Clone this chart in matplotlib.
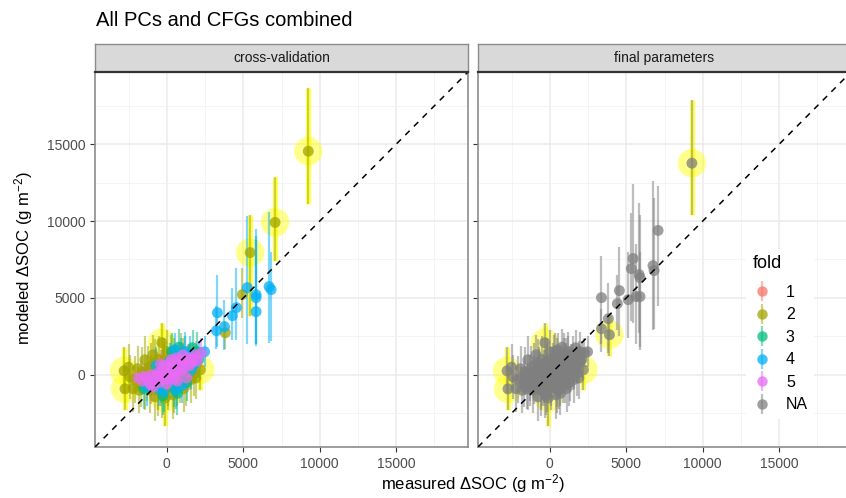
import numpy as np
import matplotlib.pyplot as plt
from matplotlib.lines import Line2D
from matplotlib.legend_handler import HandlerTuple

plt.rcParams['font.family'] = ['Liberation Sans', 'DejaVu Sans']
plt.rcParams['mathtext.default'] = 'regular'

# cluster of sites around the origin (same measured values in both panels)
clu_x = [-2790, -2730, -2400, -2200, -1900, -1700, -1430, -1300, -1100, -1000, -900, -780, -700, -600, -500,
         -325, -300, -200, -100, 0, 100, 200, 400, 500, 700, 900, 1100, 1300, 1600, 2200, 1900,
         200, 800, -300, 1400,
         1690, 325, -260, 800, 1300, -700, 500, 1000,
         2470, 520, 1200, -500, 1000, 1800, -1000, 300, 1500,
         -1880, -1500, -1200, -1000, -800, -600, -500, -300, -200, 0, 100, 200, 300, 400, 500, 600, 700,
         800, 900, 1000, 1100, 1200, 1400, 1500, 1700, 1900, 2000, 2270, -900, 0, 700, 1300, 300, -400,
         -2500, -2100, -1800, -1600, -1400, -1200, -1000, -800, -600, -400, -150, 50, 250, 450, 650, 850,
         1050, 1250, 1500, 1800,
         -1600, -1300, -1100, -700, -400, -100, 150, 350, 550, 750, 950, 1150, 1350, 1600, 1800, -200,
         250, 650, 1050, 450,
         -1300, -200, 600, 1600, 2100, 900, -700, 200,
         -1500, 0, 1200, 2000, -400, 700]
clu_y = [260, -910, -130, -900, 400, -600, 980, -200, -980, 600, 1300, -1430, 200, -700, 1000,
         2090, -1200, 500, -1500, 1500, -800, 300, -1300, 900, -500, 1300, -900, 400, -300, 330, -200,
         200, 500, -100, 700,
         1760, 1500, -1370, 1800, -500, -100, -900, 100,
         1500, 1630, 1500, -900, -700, 700, -300, -400, 1300,
         -200, -100, -400, 0, -300, 100, -500, 300, -200, 100, 500, -100, 300, 700, 0, 400, 800,
         200, 600, 1000, 400, 800, 1100, 600, 1000, 1300, 900, 1430, -800, -600, -400, -200, 1000, 700,
         500, -300, -1000, 200, -700, 400, -300, 800, -1000, -200, 900, -400, 1100, -900, 300, -200,
         900, -500, 500, 100,
         -400, -200, -600, -100, 0, -300, 200, 0, 200, 500, 300, 700, 900, 800, 1100, 600,
         800, 1100, 1300, -300,
         -800, -1100, -1000, 300, 1000, 1200, 600, 900,
         -900, 600, 1200, 1500, -700, -1200]
clu_lo = [-1200, -2300, -1600, -2400, -900, -2100, -500, -1700, -2500, -900, -200, -3000, -1300, -2300, -500,
          700, -2800, -1000, -3300, 200, -2300, -1200, -2900, -600, -2000, -100, -2400, -1000, -1800, -1000, -1600,
          -700, -400, -1000, -200,
          600, 300, -2600, 600, -1700, -1300, -2100, -1100,
          500, 600, 300, -2000, -1800, -500, -1400, -1500, 200,
          -900, -900, -1300, -800, -1200, -700, -1400, -500, -1100, -800, -400, -1000, -600, -200, -900, -500, -100,
          -700, -300, 100, -500, -100, 200, -300, 100, 400, 0, 500, -1700, -1500, -1300, -1100, 100, -200,
          -900, -1800, -2500, -1300, -2300, -1100, -1900, -700, -2700, -1800, -600, -2000, -400, -2500, -1200, -1800,
          -600, -2000, -1000, -1400,
          -1200, -1000, -1400, -900, -800, -1100, -600, -800, -600, -300, -500, -100, 100, 0, 300, -200,
          0, 300, 500, -1100,
          -2000, -2400, -2200, -900, -200, 100, -600, -300,
          -2200, -700, 0, 300, -2000, -2600]
clu_hi = [1800, 500, 1300, 600, 1900, 900, 2500, 1300, 500, 2100, 2600, 100, 1700, 800, 2500,
          3400, 300, 2000, -100, 2900, 700, 1800, 200, 2400, 1000, 2700, 600, 1900, 1200, 1700, 1300,
          1100, 1400, 800, 1600,
          2900, 2700, -100, 3000, 700, 1100, 300, 1300,
          2500, 2700, 2800, 200, 400, 1900, 800, 700, 2500,
          500, 700, 500, 800, 600, 900, 400, 1100, 700, 1000, 1400, 800, 1200, 1600, 900, 1300, 1700,
          1100, 1500, 1900, 1300, 1700, 2000, 1500, 1900, 2200, 1800, 2400, 100, 300, 500, 700, 1900, 1600,
          2000, 1200, 400, 1800, 800, 1900, 1300, 2300, 500, 1300, 2400, 1100, 2600, 600, 1800, 1300,
          2400, 1000, 2000, 1600,
          400, 600, 200, 700, 800, 500, 1000, 800, 1000, 1300, 1100, 1500, 1700, 1600, 1900, 1400,
          1600, 1900, 2100, 500,
          300, 100, 200, 1500, 2200, 2400, 1800, 2100,
          400, 1900, 2500, 2800, 600, 100]
clu_fold = [2] * 31 + [1] * 4 + [3] * 8 + [4] * 9 + [5] * 34 + [2] * 20 + [5] * 20 + [4] * 8 + [3] * 6
clu_hl = [0, 1, 15, 18, 29]

# larger sites, cross-validation panel
cv_x = [9250, 7080, 5450, 5260, 5840, 5840, 6690, 6820, 5840, 3310, 4290, 4550, 3250, 3770, 4940, 3830]
cv_y = [14540, 9910, 7950, 5670, 5210, 5020, 5740, 5540, 4110, 4040, 3850, 4370, 2870, 3130, 5220, 2740]
cv_lo = [11080, 7370, 3800, 2000, 1900, 2000, 2100, 2200, 2000, 1800, 2280, 2280, 1700, 1630, 3700, 1700]
cv_hi = [18640, 12840, 10400, 10300, 9500, 8800, 10600, 8000, 9000, 6500, 5670, 6970, 4500, 4890, 6970, 3500]
cv_fold = [2, 2, 2, 4, 4, 4, 4, 4, 4, 4, 4, 4, 4, 4, 2, 2]
cv_hl = [0, 1, 2]

# larger sites, final parameters panel
fin_x = [9290, 7080, 6750, 6820, 5450, 5330, 5840, 5900, 5650, 5900, 5130, 4550, 4420, 3380, 3830, 3380, 3900]
fin_y = [13760, 9390, 7100, 6780, 7560, 6910, 6520, 6320, 5090, 5090, 4890, 5480, 4630, 5020, 3650, 3000, 2610]
fin_lo = [10370, 4500, 2900, 3000, 3400, 3500, 2700, 1800, 2000, 1600, 2400, 2500, 2900, 2000, 1400, 1500, 1200]
fin_hi = [17860, 12260, 12600, 11500, 12400, 10500, 11200, 10400, 8500, 8000, 8000, 8300, 6500, 7700, 6000, 4300, 3900]
fin_hl = [0, 16]

fold_names = ['1', '2', '3', '4', '5', 'NA']
fold_cols = ['#F8766D', '#A3A500', '#00BF7D', '#00B0F6', '#E76BF3', '#7F7F7F']
draw_rank = {2: 0, 1: 1, 3: 2, 4: 3, 5: 4}

lim = (-4690, 19690)


def draw_panel(ax, x, y, lo, hi, cols, hl, rank):
    order = np.argsort(rank, kind='stable')
    x = np.asarray(x)[order]; y = np.asarray(y)[order]
    lo = np.asarray(lo)[order]; hi = np.asarray(hi)[order]
    cols = [cols[i] for i in order]
    mask = np.zeros(len(order), bool)
    mask[hl] = True
    mask = mask[order]
    ax.vlines(x[mask], lo[mask], hi[mask], color='yellow', lw=3.8, alpha=0.65, zorder=2)
    ax.scatter(x[mask], y[mask], s=420, color='yellow', alpha=0.45, edgecolors='none', zorder=2)
    ax.vlines(x, lo, hi, colors=cols, lw=1.6, alpha=0.5, zorder=3)
    ax.scatter(x, y, s=62, c=cols, alpha=0.75, edgecolors='none', zorder=4)


fig = plt.figure(figsize=(8.46, 4.98), dpi=100)
ax1 = fig.add_axes([95 / 846, 1 - 447 / 498, 373 / 846, 375 / 498])
ax2 = fig.add_axes([478 / 846, 1 - 447 / 498, 373 / 846, 375 / 498])

n = len(clu_x)
clu_cols = [fold_cols[f - 1] for f in clu_fold]
cv_cols = [fold_cols[f - 1] for f in cv_fold]
rank_cv = [draw_rank[f] for f in clu_fold + cv_fold]

draw_panel(ax1, clu_x + cv_x, clu_y + cv_y, clu_lo + cv_lo, clu_hi + cv_hi,
           clu_cols + cv_cols, clu_hl + [n + i for i in cv_hl], rank_cv)
draw_panel(ax2, clu_x + fin_x, clu_y + fin_y, clu_lo + fin_lo, clu_hi + fin_hi,
           ['#7F7F7F'] * (n + len(fin_x)), clu_hl + [n + i for i in fin_hl], [0] * (n + len(fin_x)))

for ax, name in [(ax1, 'cross-validation'), (ax2, 'final parameters')]:
    ax.plot(lim, lim, color='black', ls=(0, (4, 4)), lw=1.1, zorder=5)
    ax.set_xlim(lim)
    ax.set_ylim(lim)
    ax.set_xticks([0, 5000, 10000, 15000])
    ax.set_yticks([0, 5000, 10000, 15000])
    ax.set_xticks([-2500, 2500, 7500, 12500, 17500], minor=True)
    ax.set_yticks([-2500, 2500, 7500, 12500, 17500], minor=True)
    ax.grid(which='major', color='#EBEBEB', lw=1.1, zorder=0)
    ax.grid(which='minor', color='#F2F2F2', lw=0.6, zorder=0)
    ax.set_axisbelow(True)
    ax.tick_params(which='major', length=3.5, width=0.8, color='#333333', labelcolor='#4D4D4D', labelsize=10)
    ax.tick_params(which='minor', length=0)
    for s in ax.spines.values():
        s.set_color('#8C8C8C')
        s.set_linewidth(1.2)
    pos = ax.get_position()
    st = fig.add_axes([pos.x0, 1 - 72 / 498, pos.width, 28 / 498])
    st.set_facecolor('#D9D9D9')
    st.set_xticks([]); st.set_yticks([])
    for k, s in st.spines.items():
        s.set_color('#8C8C8C')
        s.set_linewidth(1.0)
    st.spines['bottom'].set_color('#333333')
    st.spines['bottom'].set_linewidth(1.6)
    st.text(0.5, 0.5, name, ha='center', va='center', fontsize=10, color='#1A1A1A', transform=st.transAxes)

ax2.tick_params(axis='y', labelleft=False)

fig.text(96 / 846, 1 - 20 / 498, 'All PCs and CFGs combined', fontsize=14.5, va='center', ha='left')
fig.text(473 / 846, 1 - 484 / 498, 'measured ΔSOC (g m$^{-2}$)', fontsize=12, ha='center', va='center')
fig.text(24 / 846, 1 - 258 / 498, 'modeled ΔSOC (g m$^{-2}$)', fontsize=12, ha='center', va='center',
         rotation=90)

handles = []
for c in fold_cols:
    bar = Line2D([], [], marker='|', ms=15, mew=1.6, color=c, alpha=0.5, ls='')
    dot = Line2D([], [], marker='o', ms=7.5, color=c, alpha=0.75, mec='none', ls='')
    handles.append((bar, dot))
leg = fig.legend(handles, fold_names, handler_map={tuple: HandlerTuple(ndivide=1)},
                 loc='upper left', bbox_to_anchor=(738 / 846, 1 - 241 / 498), title='fold',
                 fontsize=11.5, title_fontsize=13, frameon=True, facecolor='white', edgecolor='none',
                 framealpha=1, labelspacing=0.47, handlelength=1.2, handletextpad=0.9, borderpad=0.4)
leg._legend_box.align = 'left'
leg._legend_box.sep = 9

fig.savefig('out.png', dpi=100)
